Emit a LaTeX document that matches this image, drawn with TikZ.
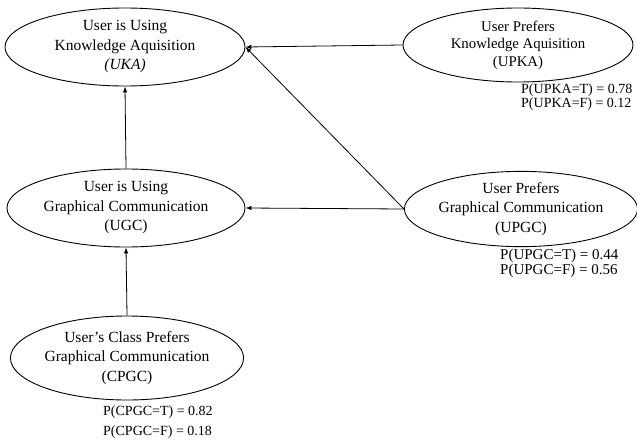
\documentclass[tikz,border=0pt]{standalone}
\usepackage{fontspec}
\setmainfont{Liberation Serif}
\usetikzlibrary{shapes.geometric,arrows.meta}
\begin{document}
\begin{tikzpicture}[x=1pt,y=-1pt,
  bn/.style={draw,ellipse,line width=0.9pt,inner sep=0pt,align=center,
    font=\fontsize{15.5}{19.5}\selectfont},
  prob/.style={anchor=north west,align=left,inner sep=0pt},
  arr/.style={-{Latex[length=6pt,width=4.5pt]},line width=0.8pt}]
\useasboundingbox (0,0) rectangle (637,447);
\node[bn,minimum width=240pt,minimum height=78pt] (uka) at (125,47)
  {User is Using\\Knowledge Aquisition\\\textit{(UKA)}};
\node[bn,minimum width=230pt,minimum height=74pt,font=\fontsize{14.8}{17.5}\selectfont] (upka) at (518,45)
  {User Prefers\\Knowledge Aquisition\\(UPKA)};
\node[bn,minimum width=238pt,minimum height=78pt] (ugc) at (126,208)
  {User is Using\\Graphical Communication\\(UGC)};
\node[bn,minimum width=230pt,minimum height=75pt] (upgc) at (521,209)
  {User Prefers\\Graphical Communication\\(UPGC)};
\node[bn,minimum width=232pt,minimum height=84pt] (cpgc) at (127,358)
  {User's Class Prefers\\Graphical Communication\\(CPGC)};
\node[prob,font=\fontsize{14}{13.5}\selectfont] (pupka) at (521,84) {P(UPKA=T) = 0.78\\P(UPKA=F) = 0.12};
\node[prob,font=\fontsize{15}{15}\selectfont] (pupgc) at (500,249) {P(UPGC=T) = 0.44\\P(UPGC=F) = 0.56};
\node[prob,font=\fontsize{14}{20}\selectfont] (pcpgc) at (103,406) {P(CPGC=T) = 0.82\\P(CPGC=F) = 0.18};
\draw[arr] (upka.west) -- (uka.east);
\draw[arr] (upgc.west) -- (uka.east);
\draw[arr] (upgc.west) -- (ugc.east);
\draw[arr] (ugc.north) -- (uka.south);
\draw[arr] (cpgc.north) -- (ugc.south);
\end{tikzpicture}
\end{document}
